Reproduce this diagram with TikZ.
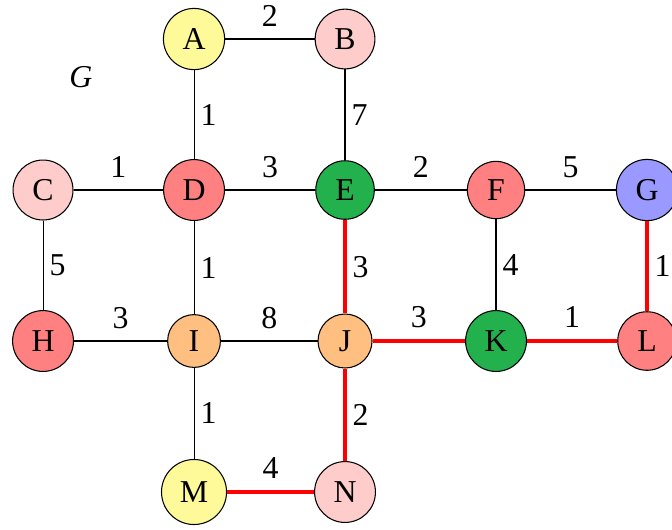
\documentclass[12pt,tikz,border=0pt]{standalone}
\usepackage{xcolor}
\usepackage{fontspec}
\setmainfont{Liberation Serif}
\usepackage{tikz}
\usetikzlibrary{positioning}
\definecolor{vgreen}{HTML}{22B14C}

\begin{document}
\begin{tikzpicture}[
  vertex/.style={circle, draw=black, thin, inner sep=4pt},
  edge/.style={draw=black, thin},
  redge/.style={draw=red, very thick},
  wt/.style={inner sep=2.3pt},
]
  \useasboundingbox (-0.57,0.517) rectangle (8.331,-6.49);

  \node[vertex, fill=yellow!40] (A) at (2, 0) {A};
  \node[vertex, fill=red!20] (B) at (4, 0) {B};
  \node[vertex, fill=red!20] (C) at (0, -2) {C};
  \node[vertex, fill=red!50] (D) at (2, -2) {D};
  \node[vertex, fill=vgreen] (E) at (4, -2) {E};
  \node[vertex, fill=red!50] (F) at (6, -2) {F};
  \node[vertex, fill=blue!40] (G) at (8, -2) {G};
  \node[vertex, fill=red!50] (H) at (0, -4) {H};
  \node[vertex, fill=orange!50] (I) at (2, -4) {I};
  \node[vertex, fill=orange!50] (J) at (4, -4) {J};
  \node[vertex, fill=vgreen] (K) at (6, -4) {K};
  \node[vertex, fill=red!50] (L) at (8, -4) {L};
  \node[vertex, fill=yellow!40] (M) at (2, -6) {M};
  \node[vertex, fill=red!20] (N) at (4, -6) {N};

  \node (name) at (0.5, -0.5) {\textit{G}};

  % horizontal edges
  \draw[edge] (A) -- (B) node[midway, above=2.2pt, wt] {2};
  \draw[edge] (C) -- (D) node[midway, above=2.2pt, wt] {1};
  \draw[edge] (D) -- (E) node[midway, above=2.2pt, wt] {3};
  \draw[edge] (E) -- (F) node[midway, above=2.2pt, wt] {2};
  \draw[edge] (F) -- (G) node[midway, above=2.2pt, wt] {5};
  \draw[edge] (H) -- (I) node[midway, above=2.2pt, wt] {3};
  \draw[edge] (I) -- (J) node[midway, above=2.2pt, wt] {8};
  \draw[redge] (J) -- (K) node[midway, above=2.2pt, wt, black] {3};
  \draw[redge] (K) -- (L) node[midway, above=2.2pt, wt, black] {1};
  \draw[redge] (M) -- (N) node[midway, above=2.2pt, wt, black] {4};

  % vertical edges
  \draw[edge] (A) -- (D) node[midway, right, wt] {1};
  \draw[edge] (B) -- (E) node[midway, right, wt] {7};
  \draw[edge] (C) -- (H) node[midway, right, wt] {5};
  \draw[edge] (D) -- (I) node[midway, right, wt] {1};
  \draw[redge] (E) -- (J) node[midway, right, wt, black] {3};
  \draw[edge] (F) -- (K) node[midway, right, wt] {4};
  \draw[redge] (G) -- (L) node[midway, right, wt, black] {1};
  \draw[edge] (I) -- (M) node[midway, right, wt] {1};
  \draw[redge] (J) -- (N) node[midway, right, wt, black] {2};
\end{tikzpicture}
\end{document}
